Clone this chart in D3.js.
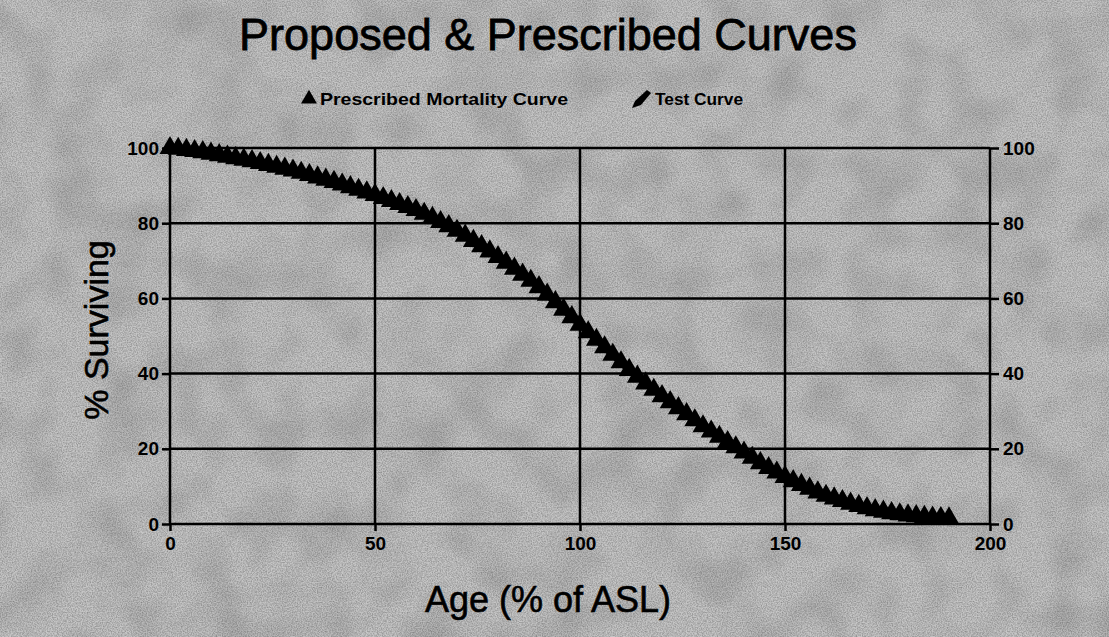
<!DOCTYPE html>
<html>
<head>
<meta charset="utf-8">
<script src="https://cdn.jsdelivr.net/npm/d3@7"></script>
<style>
  body { margin: 0; background: #c0c0c0; }
  svg text { font-family: "Liberation Sans", Arial, sans-serif; fill: #000; }
</style>
</head>
<body>
<div id="chart"></div>
<script>
// age (% of ASL) and % surviving
const ages = [0, 2, 4, 6, 8, 10, 12, 14, 16, 18, 20, 22, 24, 26, 28, 30, 32, 34, 36, 38,
  40, 42, 44, 46, 48, 50, 52, 54, 56, 58, 60, 62, 64, 66, 68, 70, 72, 74, 76, 78,
  80, 82, 84, 86, 88, 90, 92, 94, 96, 98, 100, 102, 104, 106, 108, 110, 112, 114, 116, 118,
  120, 122, 124, 126, 128, 130, 132, 134, 136, 138, 140, 142, 144, 146, 148, 150, 152, 154, 156, 158,
  160, 162, 164, 166, 168, 170, 172, 174, 176, 178, 180, 182, 184, 186, 188, 190];

const prescribed = [100, 99.8, 99.5, 99.2, 98.9, 98.5, 98.1, 97.7, 97.3, 96.9, 96.5, 96.0, 95.5, 95.0, 94.5, 94.0, 93.4, 92.8, 92.2, 91.6,
  91.0, 90.3, 89.6, 88.9, 88.2, 87.5, 86.7, 85.9, 85.1, 84.3, 83.5, 82.5, 81.4, 80.3, 79.2, 78.0, 76.7, 75.3, 73.9, 72.5,
  71.0, 69.5, 67.9, 66.3, 64.7, 63.0, 61.0, 59.0, 57.0, 55.0, 53.0, 51.0, 49.0, 47.0, 45.0, 43.0, 41.0, 39.2, 37.4, 35.7,
  34.0, 32.4, 30.8, 29.2, 27.6, 26.0, 24.6, 23.2, 21.8, 20.4, 19.0, 17.6, 16.2, 14.9, 13.7, 12.5, 11.4, 10.4, 9.4, 8.4,
  7.5, 6.8, 6.1, 5.4, 4.8, 4.2, 3.7, 3.3, 2.9, 2.6, 2.3, 2.1, 1.9, 1.7, 1.6, 1.5];

// test curve sits on top of the prescribed one
const testCurve = prescribed.slice();

const xTicks = [0, 50, 100, 150, 200];
const yTicks = [0, 20, 40, 60, 80, 100];

const width = 1109, height = 637;
const margin = { top: 148, right: 119, bottom: 113, left: 170 };

const svg = d3.select("#chart").append("svg")
  .attr("width", width)
  .attr("height", height);

// scanned-paper background
const defs = svg.append("defs");
const f = defs.append("filter").attr("id", "grain")
  .attr("x", 0).attr("y", 0).attr("width", "100%").attr("height", "100%");
f.append("feTurbulence").attr("type", "fractalNoise")
  .attr("baseFrequency", 0.8).attr("numOctaves", 2).attr("seed", 3);
f.append("feColorMatrix").attr("type", "matrix")
  .attr("values", "0 0 0 0 0  0 0 0 0 0  0 0 0 0 0  0 0 0 -1.6 1.1");

const f2 = defs.append("filter").attr("id", "blotch")
  .attr("x", 0).attr("y", 0).attr("width", "100%").attr("height", "100%");
f2.append("feTurbulence").attr("type", "fractalNoise")
  .attr("baseFrequency", 0.02).attr("numOctaves", 2).attr("seed", 7);
f2.append("feColorMatrix").attr("type", "matrix")
  .attr("values", "0 0 0 0 0  0 0 0 0 0  0 0 0 0 0  0 0 0 -2 1.2");

svg.append("rect").attr("width", width).attr("height", height).attr("fill", "#c6c6c6");
svg.append("rect").attr("width", width).attr("height", height)
  .attr("filter", "url(#blotch)").attr("opacity", 0.12);
svg.append("rect").attr("width", width).attr("height", height)
  .attr("filter", "url(#grain)").attr("opacity", 0.3);

const x = d3.scaleLinear().domain([0, 200]).range([margin.left, width - margin.right]);
const y = d3.scaleLinear().domain([0, 100]).range([height - margin.bottom, margin.top]);

// grid
svg.append("g").selectAll("line").data(yTicks).join("line")
  .attr("x1", x(0)).attr("x2", x(200))
  .attr("y1", d => y(d)).attr("y2", d => y(d))
  .attr("stroke", "#000").attr("stroke-width", 2.5);
svg.append("g").selectAll("line").data(xTicks).join("line")
  .attr("x1", d => x(d)).attr("x2", d => x(d))
  .attr("y1", y(0)).attr("y2", y(100))
  .attr("stroke", "#000").attr("stroke-width", 2.5);

// axes
const styleAxis = g => {
  g.select(".domain").remove();
  g.selectAll(".tick line").attr("stroke", "#000").attr("stroke-width", 2.5);
  g.selectAll(".tick text")
    .style("font-family", "'Liberation Sans Narrow', 'Liberation Sans', Arial, sans-serif")
    .style("font-weight", "bold").style("font-size", "19px").attr("fill", "#000");
};

svg.append("g").attr("transform", `translate(${x(0)},0)`)
  .call(d3.axisLeft(y).tickValues(yTicks).tickSize(8).tickPadding(3))
  .call(styleAxis);
svg.append("g").attr("transform", `translate(${x(200)},0)`)
  .call(d3.axisRight(y).tickValues(yTicks).tickSize(9).tickPadding(4))
  .call(styleAxis);
svg.append("g").attr("transform", `translate(0,${y(0)})`)
  .call(d3.axisBottom(x).tickValues(xTicks).tickSize(7).tickPadding(6))
  .call(styleAxis);

const pts = ages.map((a, i) => ({ age: a, v: prescribed[i], t: testCurve[i] }));

// test curve
svg.append("path").datum(pts)
  .attr("fill", "none").attr("stroke", "#000").attr("stroke-width", 7)
  .attr("stroke-linejoin", "round")
  .attr("d", d3.line().x(d => x(d.age)).y(d => y(d.t)));

// prescribed mortality curve: triangle markers
const tri = d3.symbol().type(d3.symbolTriangle).size(190);
svg.append("g").selectAll("path").data(pts).join("path")
  .attr("d", tri)
  .attr("transform", d => `translate(${x(d.age)},${y(d.v)})`)
  .attr("fill", "#000");

// title
svg.append("text").attr("x", 548).attr("y", 50).attr("text-anchor", "middle")
  .style("font-size", "45px").attr("stroke", "#000").attr("stroke-width", 0.8)
  .text("Proposed & Prescribed Curves");

// legend
svg.append("path").attr("d", d3.symbol().type(d3.symbolTriangle).size(110))
  .attr("transform", "translate(309,99)").attr("fill", "#000");
svg.append("text").attr("x", 320).attr("y", 105)
  .style("font-size", "17px").style("font-weight", "bold")
  .attr("textLength", 248).attr("lengthAdjust", "spacingAndGlyphs")
  .text("Prescribed Mortality Curve");
svg.append("path").attr("d", "M632,108 L635,101 L647,90 L651,93 L641,105 Z").attr("fill", "#000");
svg.append("text").attr("x", 655).attr("y", 105)
  .style("font-size", "17px").style("font-weight", "bold")
  .attr("textLength", 88).attr("lengthAdjust", "spacingAndGlyphs")
  .text("Test Curve");

// axis titles
svg.append("text").attr("x", 548).attr("y", 612).attr("text-anchor", "middle")
  .style("font-size", "36px").attr("stroke", "#000").attr("stroke-width", 0.6)
  .text("Age (% of ASL)");
svg.append("text").attr("transform", "translate(108,330) rotate(-90)")
  .attr("text-anchor", "middle").style("font-size", "34px")
  .attr("stroke", "#000").attr("stroke-width", 0.6)
  .text("% Surviving");
</script>
</body>
</html>
